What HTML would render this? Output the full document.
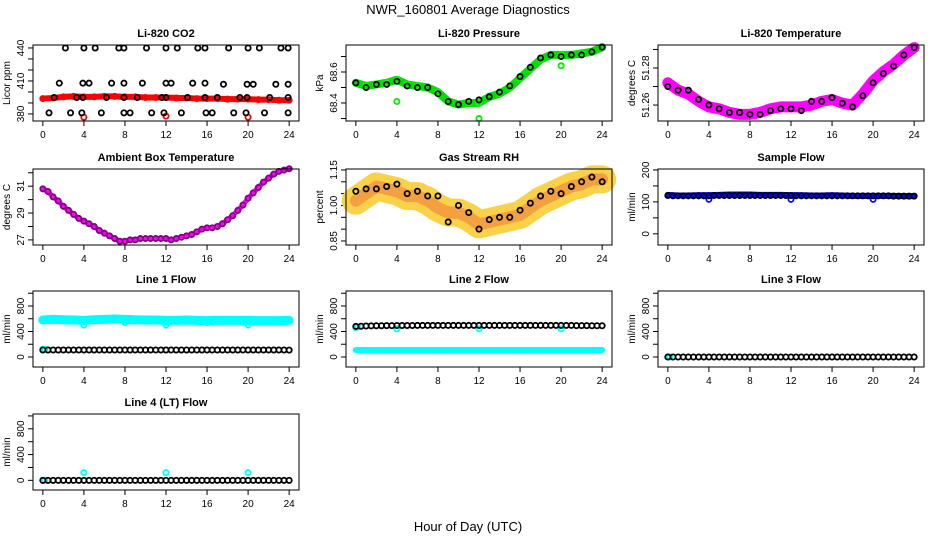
<!DOCTYPE html>
<html><head><meta charset="utf-8"><style>
body{margin:0;background:#fff}
svg{display:block;font-family:"Liberation Sans",Arial,sans-serif}
</style></head><body>
<svg id="chart" width="936" height="540" viewBox="0 0 936 540" xmlns="http://www.w3.org/2000/svg">
<rect width="936" height="540" fill="#fff"/>
<text x="468" y="14" text-anchor="middle" font-size="13">NWR_160801  Average Diagnostics</text>
<text x="468" y="531" text-anchor="middle" font-size="13">Hour of Day (UTC)</text>
</svg>
<script>
const H=[0,1,2,3,4,5,6,7,8,9,10,11,12,13,14,15,16,17,18,19,20,21,22,23,24];
const H2=[0,0.5,1,1.5,2,2.5,3,3.5,4,4.5,5,5.5,6,6.5,7,7.5,8,8.5,9,9.5,10,10.5,11,11.5,12,12.5,13,13.5,14,14.5,15,15.5,16,16.5,17,17.5,18,18.5,19,19.5,20,20.5,21,21.5,22,22.5,23,23.5,24];
const xTicks=[0,4,8,12,16,20,24];
const outHours=[4,12,20];
const startHours=[0,0.2];

const co2Red=[394,394.5,395.5,396,395.5,395.5,396,396,395.5,395.5,395,395,395,394.5,394.5,394,394,394,393.5,393.5,393.5,393,393,392.5,392.5];
const co2RedOut=[377,378,377];
const co2BlackHours=[2.2,4,5.1,7.4,7.9,10.1,12,13.1,15.1,15.8,18.1,20,21.1,23.2,23.9, 1.6,3.9,4.5,6.7,7.9,9.7,12,12.5,14.6,15.8,17.6,19.9,20.5,22.7,23.9, 1.1,3.3,3.9,6.2,7.9,9.2,11.6,12,14.1,15.8,17,19.2,19.9,22.1,23.9, 0.6,2.7,3.8,5.7,7.9,8.5,10.6,11.8,13.5,15.9,16.5,18.6,19.8,21.6,23.9];
const co2Black=[440,440,440,440,440,440,440,440,440,440,440,440,440,440,440, 408,408,408,408,408,408,408,408,408,408,407,407,407,407,407, 395,395,395,395,395,395,395,395,395,395,395,395,395,395,395, 381,381,381,381,381,381,381,381,381,381,381,381,381,381,381];

const pressGreen=[68.53,68.51,68.52,68.53,68.55,68.52,68.51,68.50,68.47,68.41,68.39,68.40,68.40,68.44,68.46,68.50,68.56,68.62,68.68,68.71,68.71,68.71,68.72,68.73,68.76];
const pressBlack=[68.53,68.50,68.52,68.52,68.54,68.51,68.50,68.50,68.46,68.41,68.39,68.41,68.42,68.44,68.47,68.51,68.57,68.63,68.69,68.71,68.70,68.71,68.71,68.73,68.76];
const pressOut=[68.41,68.30,68.64];

const tempMag=[51.272,51.268,51.266,51.262,51.259,51.258,51.256,51.255,51.255,51.256,51.258,51.259,51.259,51.259,51.260,51.262,51.263,51.261,51.260,51.266,51.273,51.278,51.282,51.287,51.291];
const tempBlack=[51.270,51.268,51.268,51.263,51.260,51.258,51.256,51.256,51.255,51.255,51.257,51.258,51.258,51.257,51.262,51.262,51.264,51.261,51.259,51.265,51.272,51.277,51.281,51.287,51.291];

const ambient=[30.8,30.6,30.2,29.9,29.5,29.2,28.9,28.6,28.4,28.2,28.0,27.7,27.5,27.3,27.1,26.9,26.9,27.0,27.0,27.1,27.1,27.1,27.1,27.1,27.1,27.0,27.1,27.2,27.3,27.4,27.6,27.8,27.9,27.9,28.0,28.2,28.5,28.8,29.2,29.6,30.1,30.5,30.9,31.3,31.6,31.9,32.1,32.2,32.3];

const rhCloud=[1.02,1.05,1.08,1.07,1.06,1.04,1.04,1.02,0.99,0.97,0.97,0.95,0.92,0.93,0.94,0.95,0.96,0.99,1.02,1.04,1.06,1.08,1.09,1.11,1.11];
const rhBlack=[1.06,1.07,1.07,1.08,1.09,1.05,1.06,1.04,1.04,0.93,1.00,0.97,0.90,0.94,0.95,0.95,0.98,1.01,1.04,1.06,1.05,1.08,1.10,1.12,1.10];

const sampleBlue=[122,120,120,121,121,122,123,123,123,122,122,122,121,121,120,120,121,120,119,119,119,119,119,118,118];
const sampleBlueOut=[108,108,108];
const sampleBlack=[120,119,119,119,119,119,119,119,119,120,120,120,120,120,120,120,120,120,120,120,120,120,120,120,120,119,119,119,119,119,119,119,119,119,119,119,119,119,119,119,119,119,119,119,118,118,118,118,118];

const line1Cyan=[580,590,585,580,575,585,590,595,590,585,580,580,575,575,580,575,570,575,575,575,575,570,570,570,575];
const line1DipHours=[4,8,12,16,20];
const line1Dip=[500,540,500,540,500];
const line1Start=[120,120];
const line1Black=[110,110,110,110,110,110,110,110,110,110,110,110,110,110,110,110,110,110,110,110,110,110,110,110,110,110,110,110,110,110,110,110,110,110,110,110,110,110,110,110,110,110,110,110,110,110,110,110,108];

const line2Black=[480,482,486,488,490,490,492,492,494,494,494,494,495,495,495,495,495,495,495,495,495,495,495,495,495,495,495,495,495,495,495,495,495,495,495,495,495,495,495,495,495,495,495,492,492,492,490,490,490];
const line2CyanLow=[110,110,110,110,110,110,110,110,110,110,110,110,110,110,110,110,110,110,110,110,110,110,110,110,110];
const line2Start=[460,470];
const line2Out=[440,440,440];

const line3Black=[0,0,0,0,0,0,0,0,0,0,0,0,0,0,0,0,0,0,0,0,0,0,0,0,0,0,0,0,0,0,0,0,0,0,0,0,0,0,0,0,0,0,0,0,0,0,0,0,0];
const line3Start=[0,0];

const line4Black=[0,0,0,0,0,0,0,0,0,0,0,0,0,0,0,0,0,0,0,0,0,0,0,0,0,0,0,0,0,0,0,0,0,0,0,0,0,0,0,0,0,0,0,0,0,0,0,0,0];
const line4Out=[120,120,120];
const line4Start=[0,0];

const svg=document.getElementById('chart');
const NS='http://www.w3.org/2000/svg';
const COLS=[33,346,658], ROWS=[45,169,291,414], PW=266, PH=76;
function mk(tag,attrs,parent){const e=document.createElementNS(NS,tag);for(const k in attrs)e.setAttribute(k,attrs[k]);(parent||svg).appendChild(e);return e;}

function panel(col,row,title,ylab,top,bot,ticks,labels){
  const x0=COLS[col],y0=ROWS[row];
  const g=mk('g',{});
  
  
  const p={g,x0,y0,
    x:h=>x0+PW*((h+0.96)/25.92),
    y:v=>y0+PH*(top-v)/(top-bot)};
  const t=mk('text',{x:x0+PW/2,y:y0-8,'text-anchor':'middle','font-size':'11','font-weight':'bold'},g);
  t.textContent=title;
  
  
  const yl=mk('text',{transform:`translate(${x0-23},${y0+PH/2}) rotate(-90)`,'text-anchor':'middle','font-size':'10'},g);
  yl.textContent=ylab;
  
  
  xTicks.forEach(h=>{
    const xx=p.x(h);
    const tk=mk('line',{x1:xx,x2:xx,y1:y0+PH,y2:y0+PH+5,stroke:'#000'},g);
    
    
    const lb=mk('text',{x:xx,y:y0+PH+17,'text-anchor':'middle','font-size':'10'},g);
    lb.textContent=h;
    
    
  });
  ticks.forEach(v=>{
    const yy=p.y(v);
    const tk=mk('line',{x1:x0-5,x2:x0,y1:yy,y2:yy,stroke:'#000'},g);
    
    
  });
  labels.forEach(v=>{
    const yy=p.y(v);
    const lb=mk('text',{transform:`translate(${x0-9},${yy}) rotate(-90)`,'text-anchor':'middle','font-size':'10'},g);
    lb.textContent=v;
    
    
  });
  return p;
}
function box(p){
  const b=mk('rect',{x:p.x0,y:p.y0,width:PW,height:PH,fill:'none',stroke:'#000'},p.g);
  
  
}
function band(p,hs,vs,color,w,name){
  const pl=mk('polyline',{points:hs.map((h,i)=>p.x(h)+','+p.y(vs[i])).join(' '),fill:'none',stroke:color,'stroke-width':w,'stroke-linejoin':'round','stroke-linecap':'round'},p.g);
  
  
}
function pts(p,hs,vs,color,name){
  hs.forEach((h,i)=>{
    const c=mk('circle',{cx:p.x(h),cy:p.y(vs[i]),r:2.6,fill:'none',stroke:color,'stroke-width':1.8},p.g);
    
    
  });
}
const flowTicks=[0,200,400,600,800,1000], flowLabels=[0,400,800];

let p=panel(0,0,'Li-820 CO2','Licor ppm',442.7,373.6,[380,390,400,410,420,430,440],[380,410,440]);
band(p,H,co2Red,'#ff0000',6,'co2-band');
pts(p,H,co2Red,'#ff0000','co2-point');
pts(p,outHours,co2RedOut,'#ff0000','co2-outlier');
pts(p,co2BlackHours,co2Black,'#000','co2-avg-point');
box(p);

p=panel(1,0,'Li-820 Pressure','kPa',68.774,68.284,[68.3,68.4,68.5,68.6,68.7],[68.4,68.6]);
band(p,H,pressGreen,'#00dd00',8,'pressure-band');
pts(p,H,pressGreen,'#00ff00','pressure-point');
pts(p,outHours,pressOut,'#00ee00','pressure-outlier');
pts(p,H,pressBlack,'#000','pressure-avg-point');
box(p);

p=panel(2,0,'Li-820 Temperature','degrees C',51.2924,51.2514,[51.26,51.27,51.28,51.29],[51.26,51.28]);
band(p,H,tempMag,'#ff00ff',11,'temperature-band');
pts(p,H,tempMag,'#ff00ff','temperature-point');
pts(p,H,tempBlack,'#000','temperature-avg-point');
box(p);

p=panel(0,1,'Ambient Box Temperature','degrees C',32.28,26.62,[27,28,29,30,31,32],[27,29,31]);
band(p,H2,ambient,'#ff00ff',5,'ambient-band');
pts(p,H2,ambient,'#800080','ambient-point');
box(p);

p=panel(1,1,'Gas Stream RH','percent',1.154,0.833,[0.85,0.9,0.95,1.0,1.05,1.1,1.15],[0.85,'1.00',1.15]);
band(p,H,rhCloud,'#f9d24a',28,'rh-cloud');
band(p,H,rhCloud,'#f2a040',12,'rh-cloud-core');
pts(p,H,rhBlack,'#000','rh-avg-point');
box(p);

p=panel(2,1,'Sample Flow','ml/min',203,-35,[0,50,100,150,200],[0,100,200]);
band(p,H,sampleBlue,'#0000ff',6,'sample-band');
pts(p,outHours,sampleBlueOut,'#0000ff','sample-outlier');
pts(p,H2,sampleBlack,'#000','sample-avg-point');
box(p);

p=panel(0,2,'Line 1 Flow','ml/min',1035,-157,flowTicks,flowLabels);
band(p,H,line1Cyan,'#00ffff',9,'line1-band');
pts(p,line1DipHours,line1Dip,'#00ffff','line1-dip');
pts(p,startHours,line1Start,'#00ffff','line1-start');
pts(p,H2,line1Black,'#000','line1-avg-point');
box(p);

p=panel(1,2,'Line 2 Flow','ml/min',1035,-157,flowTicks,flowLabels);
band(p,H,line2CyanLow,'#00ffff',6,'line2-band');
pts(p,startHours,line2Start,'#00ffff','line2-start');
pts(p,outHours,line2Out,'#00ffff','line2-outlier');
pts(p,H2,line2Black,'#000','line2-avg-point');
box(p);

p=panel(2,2,'Line 3 Flow','ml/min',1035,-157,flowTicks,flowLabels);
pts(p,startHours,line3Start,'#00ffff','line3-start');
pts(p,H2,line3Black,'#000','line3-avg-point');
box(p);

p=panel(0,3,'Line 4 (LT) Flow','ml/min',1030,-150,flowTicks,flowLabels);
pts(p,startHours,line4Start,'#00ffff','line4-start');
pts(p,outHours,line4Out,'#00ffff','line4-outlier');
pts(p,H2,line4Black,'#000','line4-avg-point');
box(p);
</script>
</body></html>
